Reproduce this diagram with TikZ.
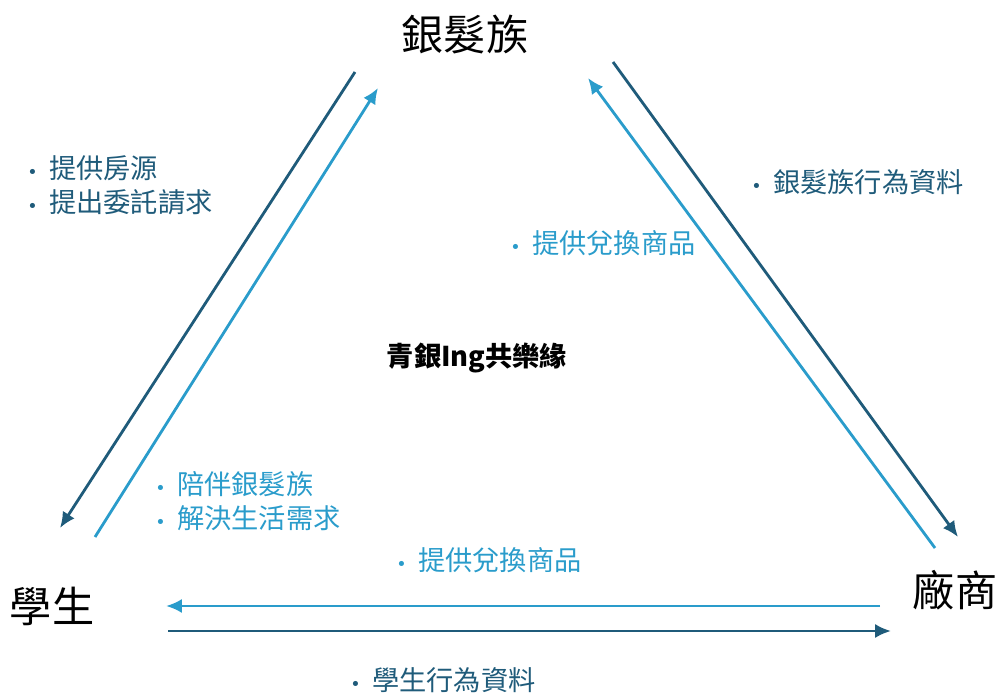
\documentclass[tikz,border=0pt]{standalone}
\usepackage{fontspec}
\setmainfont{Noto Sans CJK TC}
\newfontfamily\dotfont{DejaVu Sans}
\usetikzlibrary{arrows.meta,positioning}
\definecolor{darkblue}{HTML}{1F5B7A}
\definecolor{lightblue}{HTML}{2A9CCB}
\tikzstyle{party} = [font=\fontsize{24}{28}\selectfont, inner sep=0pt]
\tikzstyle{darkline} = [draw=darkblue, line width=1.6pt, -{Latex[length=9pt,width=8pt]}]
\tikzstyle{lightline} = [draw=lightblue, line width=1.6pt, -{Latex[length=9pt,width=8pt]}]
\tikzstyle{darknote} = [text=darkblue, font=\fontsize{15.5}{19.3}\selectfont, align=left, inner sep=0pt, anchor=west]
\tikzstyle{lightnote} = [text=lightblue, font=\fontsize{15.5}{19.3}\selectfont, align=left, inner sep=0pt, anchor=west]
\newcommand{\bul}{{\dotfont\fontsize{10}{10}\selectfont•}\hspace{6.5pt}}

\begin{document}
\begin{tikzpicture}[x=0.02cm, y=-0.02cm]
	\useasboundingbox (0,0) rectangle (999,695);
	% Place nodes
	\node [party] (silver) at (465,35) {銀髮族};
	\node [party] (student) at (52,606) {學生};
	\node [party] (vendor) at (955,590) {廠商};
	\node [font=\bfseries\fontsize{15.5}{18}\selectfont] (title) at (477,358) {青銀Ing共樂緣};

	% arrow ends
	\coordinate (ls1) at (355,72);
	\coordinate (ls2) at (60,528);
	\coordinate (ls3) at (95,537);
	\coordinate (ls4) at (378,88);
	\coordinate (rs1) at (613,62);
	\coordinate (rs2) at (958,537);
	\coordinate (rs3) at (935,548);
	\coordinate (rs4) at (588,78);
	\coordinate (bs1) at (880,606);
	\coordinate (bs2) at (166,606);
	\coordinate (bs3) at (168,631);
	\coordinate (bs4) at (891,631);

	\path [darkline] (ls1) -- (ls2);
	\path [lightline] (ls3) -- (ls4);
	\path [darkline] (rs1) -- (rs2);
	\path [lightline] (rs3) -- (rs4);
	\path [lightline] (bs1) -- (bs2);
	\path [darkline] (bs3) -- (bs4);

	% labels
	\node [darknote] (housing) at (27,185) {\bul 提供房源\\ \bul 提出委託請求};
	\node [lightnote] (company) at (155,501) {\bul 陪伴銀髮族\\ \bul 解決生活需求};
	\node [lightnote] (goodsa) at (510,243) {\bul 提供兌換商品};
	\node [darknote] (silverdata) at (751,182) {\bul 銀髮族行為資料};
	\node [lightnote] (goodsb) at (396,560) {\bul 提供兌換商品};
	\node [darknote] (studentdata) at (350,680) {\bul 學生行為資料};
\end{tikzpicture}
\end{document}
